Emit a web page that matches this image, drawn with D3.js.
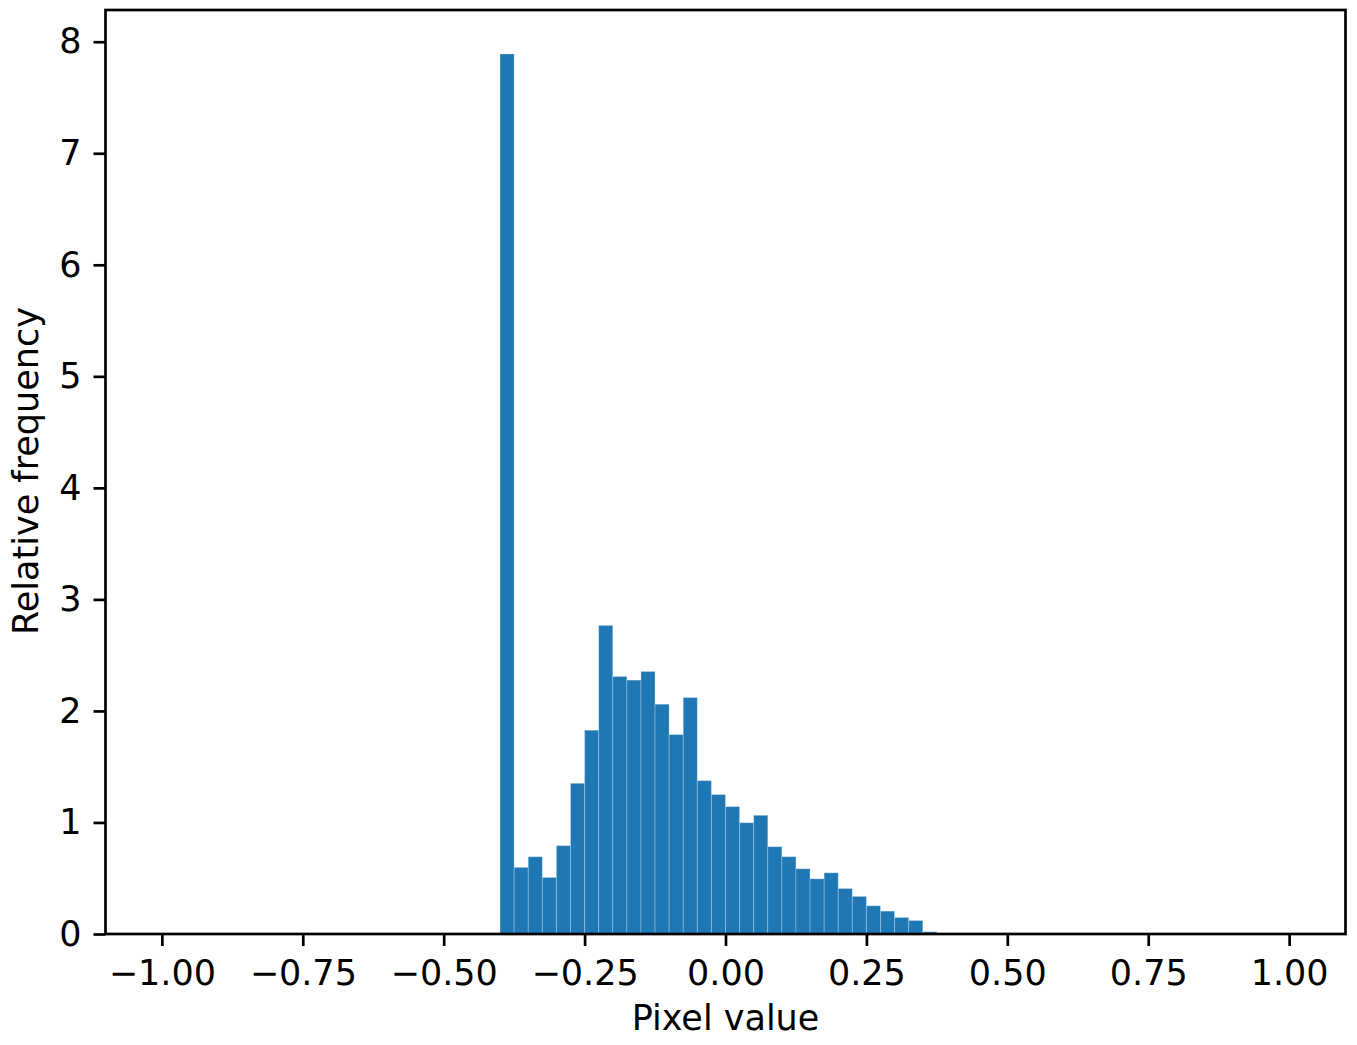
<!DOCTYPE html>
<html>
<head>
<meta charset="utf-8">
<script src="https://cdn.jsdelivr.net/npm/d3@7"></script>
<style>
  body { margin: 0; background: #fff; }
  text { font-family: "DejaVu Sans", sans-serif; fill: #000; }
</style>
</head>
<body>
<div class="canvas"></div>
<script>
// histogram bins (left edges) and density per bin, width 0.025
const binWidth = 0.025;
const binStarts = [-0.400, -0.375, -0.350, -0.325, -0.300, -0.275, -0.250, -0.225,
  -0.200, -0.175, -0.150, -0.125, -0.100, -0.075, -0.050, -0.025,
  0.000, 0.025, 0.050, 0.075, 0.100, 0.125, 0.150, 0.175,
  0.200, 0.225, 0.250, 0.275, 0.300, 0.325, 0.350, 0.375];
const density = [7.89, 0.597, 0.693, 0.507, 0.792, 1.351, 1.827, 2.767,
  2.309, 2.276, 2.354, 2.06, 1.788, 2.12, 1.375, 1.25,
  1.142, 0.998, 1.064, 0.783, 0.693, 0.585, 0.495, 0.549,
  0.408, 0.337, 0.253, 0.205, 0.148, 0.121, 0.02, 0.008];
const xTicks = [-1, -0.75, -0.5, -0.25, 0, 0.25, 0.5, 0.75, 1];
const yTicks = [0, 1, 2, 3, 4, 5, 6, 7, 8];

const width = 1357, height = 1045;
const mLeft = 105.5, mRight = 1345.5, mTop = 10, mBottom = 934;
const fontSize = 35;

const svg = d3.select('.canvas')
    .append('svg')
    .attr('width', width)
    .attr('height', height);

const x = d3.scaleLinear()
    .domain([-1.1, 1.1])
    .range([mLeft, mRight]);

const y = d3.scaleLinear()
    .domain([0, d3.max(density) * 1.05])
    .range([mBottom, mTop]);

const bins = binStarts.map((s, i) => ({ x0: s, x1: s + binWidth, v: density[i] }));

svg.append('g')
    .selectAll('rect')
    .data(bins)
    .enter()
    .append('rect')
    .attr('x', d => x(d.x0))
    .attr('width', d => x(d.x1) - x(d.x0))
    .attr('y', d => y(d.v))
    .attr('height', d => y(0) - y(d.v))
    .attr('fill', '#1f77b4')
    .attr('stroke', 'rgba(255,255,255,0.25)')
    .attr('stroke-width', 1);

// axes
const xAxis = svg.append('g')
    .attr('transform', `translate(0,${mBottom})`)
    .call(d3.axisBottom(x).tickValues(xTicks).tickFormat(d3.format('.2f'))
        .tickSize(12).tickPadding(10).tickSizeOuter(0));

const yAxis = svg.append('g')
    .attr('transform', `translate(${mLeft},0)`)
    .call(d3.axisLeft(y).tickValues(yTicks).tickFormat(d3.format('d'))
        .tickSize(12).tickPadding(12).tickSizeOuter(0));

[xAxis, yAxis].forEach(g => {
  g.select('.domain').remove();
  g.selectAll('.tick line').attr('stroke', '#000').attr('stroke-width', 2.7);
  g.selectAll('.tick text').attr('font-size', fontSize).attr('font-family', 'DejaVu Sans').attr('fill', '#000');
});
xAxis.selectAll('.tick text').attr('dy', '0.83em');

// frame
svg.append('rect')
    .attr('x', mLeft)
    .attr('y', mTop)
    .attr('width', mRight - mLeft)
    .attr('height', mBottom - mTop)
    .attr('fill', 'none')
    .attr('stroke', '#000')
    .attr('stroke-width', 2.7);

svg.append('text')
    .attr('x', (mLeft + mRight) / 2)
    .attr('y', 1029.5)
    .attr('text-anchor', 'middle')
    .attr('font-size', fontSize)
    .text('Pixel value');

svg.append('text')
    .attr('transform', `translate(38,${(mTop + mBottom) / 2 - 1}) rotate(-90)`)
    .attr('text-anchor', 'middle')
    .attr('font-size', fontSize)
    .text('Relative frequency');
</script>
</body>
</html>
